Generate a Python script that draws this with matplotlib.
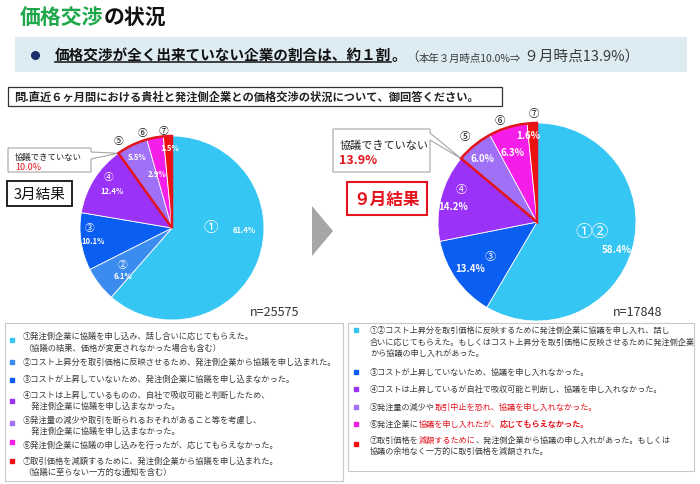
import numpy as np
import matplotlib.pyplot as plt
from matplotlib.patches import Rectangle, Polygon, Wedge

plt.rcParams['font.family'] = ['Noto Sans CJK JP', 'DejaVu Sans']

# ---- data ----
mar_labels = ['①', '②', '③', '④', '⑤', '⑥', '⑦']
mar_values = [61.4, 6.1, 10.1, 12.4, 5.5, 2.9, 1.5]
mar_n = 25575
mar_no_talk = 10.0

sep_labels = ['①②', '③', '④', '⑤', '⑥', '⑦']
sep_values = [58.4, 13.4, 14.2, 6.0, 6.3, 1.6]
sep_n = 17848
sep_no_talk = 13.9

mar_legend = [
    ['①発注側企業に協議を申し込み、話し合いに応じてもらえた。', '（協議の結果、価格が変更されなかった場合も含む）'],
    ['②コスト上昇分を取引価格に反映させるため、発注側企業から協議を申し込まれた。'],
    ['③コストが上昇していないため、発注側企業に協議を申し込まなかった。'],
    ['④コストは上昇しているものの、自社で吸収可能と判断したため、', '　発注側企業に協議を申し込まなかった。'],
    ['⑤発注量の減少や取引を断られるおそれがあること等を考慮し、', '　発注側企業に協議を申し込まなかった。'],
    ['⑥発注側企業に協議の申し込みを行ったが、応じてもらえなかった。'],
    ['⑦取引価格を減額するために、発注側企業から協議を申し込まれた。', '（協議に至らない一方的な通知を含む）'],
]

# 9月: each line is a list of (text, style) pieces; 'k' normal, 'r' red, 'rb' red bold
sep_legend = [
    [[('①②コスト上昇分を取引価格に反映するために発注側企業に協議を申し入れ、話し', 'k')],
     [('合いに応じてもらえた。もしくはコスト上昇分を取引価格に反映させるために発注側企業', 'k')],
     [('から協議の申し入れがあった。', 'k')]],
    [[('③コストが上昇していないため、協議を申し入れなかった。', 'k')]],
    [[('④コストは上昇しているが自社で吸収可能と判断し、協議を申し入れなかった。', 'k')]],
    [[('⑤発注量の減少や', 'k'), ('取引中止を恐れ、協議を申し入れなかった。', 'r')]],
    [[('⑥発注企業に', 'k'), ('協議を申し入れたが、', 'r'), ('応じてもらえなかった。', 'rb')]],
    [[('⑦取引価格を', 'k'), ('減額するために', 'r'), ('、発注側企業から協議の申し入れがあった。もしくは', 'k')],
     [('協議の余地なく一方的に取引価格を減額された。', 'k')]],
]

# ---- styles / layout ----
mar_colors = ['#36c6f4', '#3b8cee', '#0b5ef2', '#9a33f7', '#a071f6', '#f51ee8', '#ee1111']
sep_colors = ['#36c6f4', '#0b5ef2', '#9a33f7', '#a071f6', '#f51ee8', '#ee1111']
RED = '#e3141c'
TXT = '#3a3a3a'
W, H = 700, 485

# label polar positions (radius fraction, degrees)
mar_num_pos = [(0.42, 1), (0.66, 216), (0.90, 179), (0.89, 141), (1.12, 121.5), (1.09, 106.8), (1.07, 94.7)]
mar_pct_pos = [(0.79, -1), (0.74, 224), (0.87, 189), (0.77, 148), (0.87, 116), (0.61, 105.5), (0.88, 91.4)]
sep_num_pos = [(0.56, -10), (0.59, 216), (0.84, 156.5), (1.13, 130), (1.10, 110), (1.10, 91.6)]
sep_pct_pos = [(0.85, -18.6), (0.82, 214.5), (0.86, 169), (0.85, 130), (0.75, 109), (0.88, 96)]

fig = plt.figure(figsize=(7, 4.85), dpi=100)
ax = fig.add_axes([0, 0, 1, 1])
ax.set_xlim(0, W)
ax.set_ylim(H, 0)
ax.axis('off')


def chain(prev, s, **kw):
    return ax.annotate(s, xy=(1, 0), xycoords=prev, va='bottom', ha='left', **kw)


# title
t = ax.text(20, 18, '価格交渉', color='#1fa84b', fontsize=15, fontweight='bold', va='center')
chain(t, 'の状況', color='#111111', fontsize=15, fontweight='bold')

# headline band
ax.add_patch(Rectangle((15, 38), 672, 35, fc='#dcecf2', ec='none'))
ax.plot(35, 56, 'o', ms=5.5, color='#1d2c6a')
t_main = ax.text(55, 56, '価格交渉が全く出来ていない企業の割合は、約１割', fontsize=10.5,
                 fontweight='bold', color='#111111', va='center')
t_dot = chain(t_main, '。', fontsize=10.5, fontweight='bold', color='#111111')
t_p1 = chain(t_dot, '（', fontsize=9, color=TXT)
t_p2 = chain(t_p1, '本年３月時点10.0%⇒', fontsize=7.5, color=TXT)
chain(t_p2, ' ９月時点13.9%）', fontsize=10.5, color=TXT)

# question
ax.add_patch(Rectangle((8, 88), 494, 19, fc='white', ec='#333333', lw=0.9))
ax.text(14, 97.5, '問.直近６ヶ月間における貴社と発注側企業との価格交渉の状況について、御回答ください。',
        fontsize=8.1, fontweight='bold', color='#222222', va='center')

# arrow between pies
ax.add_patch(Polygon([(312, 207), (312, 257), (333, 232)], fc='#a6a6a6', ec='none'))


def draw_pie(cx, cy, r, values, labels, colors, num_pos, pct_pos, num_sizes, pct_size):
    pad = 1.35
    pa = fig.add_axes([(cx - pad * r) / W, 1 - (cy + pad * r) / H, 2 * pad * r / W, 2 * pad * r / H])
    pa.pie(values, colors=colors, startangle=90, counterclock=False, radius=1,
           wedgeprops=dict(edgecolor='white', linewidth=0.6))
    pa.set_xlim(-pad, pad)
    pa.set_ylim(-pad, pad)
    pa.axis('off')
    # outline of the "not negotiated" group (last three slices)
    start = 90 - 360 * sum(values[:-3]) / sum(values)
    pa.add_patch(Wedge((0, 0), 1, 90, start % 360, fill=False, ec=RED, lw=1.8))
    for i, (lab, v) in enumerate(zip(labels, values)):
        rr, a = num_pos[i]
        x, y = rr * np.cos(np.radians(a)), rr * np.sin(np.radians(a))
        col = 'white' if rr < 1 else '#111111'
        pa.text(x, y, lab, color=col, fontsize=num_sizes[i], ha='center', va='center')
        rr, a = pct_pos[i]
        x, y = rr * np.cos(np.radians(a)), rr * np.sin(np.radians(a))
        pa.text(x, y, f'{v:.1f}%', color='white', fontsize=pct_size, fontweight='bold',
                ha='center', va='center')
    # pixel point on the rim where the group starts
    return cx + r * np.cos(np.radians(start)), cy - r * np.sin(np.radians(start))


tip_l = draw_pie(172, 229, 92, mar_values, mar_labels, mar_colors, mar_num_pos, mar_pct_pos,
                 [10.5, 7, 7, 7, 7, 7, 7], 5.5)
tip_r = draw_pie(537, 223, 99, sep_values, sep_labels, sep_colors, sep_num_pos, sep_pct_pos,
                 [12, 8, 8, 7.5, 7.5, 7.5], 7)


def callout(x0, y0, x1, y1, tip):
    pts = [(x0, y0), (x1, y0), (x1, y0 + 4), tip, (x1, y0 + 11), (x1, y1), (x0, y1)]
    ax.add_patch(Polygon(pts, closed=True, fc='white', ec='#a6a6a6', lw=0.8, zorder=5))


callout(8, 149, 91, 173, tip_l)
ax.text(15, 157, '協議できていない', fontsize=6, color='#222222', va='center', zorder=6)
ax.text(15, 167.5, f'{mar_no_talk:.1f}%', fontsize=6.5, color=RED, va='center', zorder=6)
callout(333, 130, 430, 173, tip_r)
ax.text(339, 146, '協議できていない', fontsize=8, color='#222222', va='center', zorder=6)
ax.text(339, 161, f'{sep_no_talk:.1f}%', fontsize=9, color=RED, fontweight='bold', va='center', zorder=6)

# period labels
ax.add_patch(Rectangle((7, 182), 65, 25, fc='white', ec='#111111', lw=1.3))
ax.text(39.5, 194.5, '3月結果', fontsize=10.5, color='#111111', ha='center', va='center')
ax.add_patch(Rectangle((347, 183), 80, 33, fc='white', ec=RED, lw=1.5))
ax.text(387, 199.5, '９月結果', fontsize=12, color=RED, fontweight='bold', ha='center', va='center')

ax.text(250, 313, f'n={mar_n}', fontsize=9, color='#333333', va='center')
ax.text(613, 313, f'n={sep_n}', fontsize=9, color='#333333', va='center')

# legends
ax.add_patch(Rectangle((5, 324), 338, 158, fc='white', ec='#c8c8c8', lw=0.8))
ax.add_patch(Rectangle((348, 324), 346, 148, fc='white', ec='#c8c8c8', lw=0.8))

mar_line_y = [[336, 348], [362], [379], [395, 406], [420, 431], [445], [461, 472]]
mar_mark_y = [341, 363, 381, 402, 424, 443, 462]
for lines, ys, my, c in zip(mar_legend, mar_line_y, mar_mark_y, mar_colors):
    ax.plot(12, my, 's', ms=2.8, color=c)
    for s, y in zip(lines, ys):
        ax.text(23, y, s, fontsize=5.95, color=TXT, va='center')

sep_line_y = [[330, 342, 353], [372], [389], [407], [424], [440, 451]]
sep_mark_y = [331, 373, 390, 408, 425, 445]
styles = {'k': dict(color=TXT), 'r': dict(color=RED), 'rb': dict(color=RED, fontweight='bold')}
for lines, ys, my, c in zip(sep_legend, sep_line_y, sep_mark_y, sep_colors):
    ax.plot(356, my, 's', ms=2.8, color=c)
    for pieces, y in zip(lines, ys):
        prev = None
        for s, st in pieces:
            if prev is None:
                prev = ax.text(370, y, s, fontsize=5.85, va='center', **styles[st])
            else:
                prev = chain(prev, s, fontsize=5.85, **styles[st])

# underline of the headline (not the 。)
fig.canvas.draw()
rend = fig.canvas.get_renderer()
inv = ax.transData.inverted()
b0 = t_main.get_window_extent(rend)
(ux0, uy), (ux1, _) = inv.transform([(b0.x0, b0.y0), (b0.x1, b0.y0)])
ax.plot([ux0, ux1], [uy - 1, uy - 1], color='#222222', lw=1.2)

fig.savefig('out.png', dpi=100)
